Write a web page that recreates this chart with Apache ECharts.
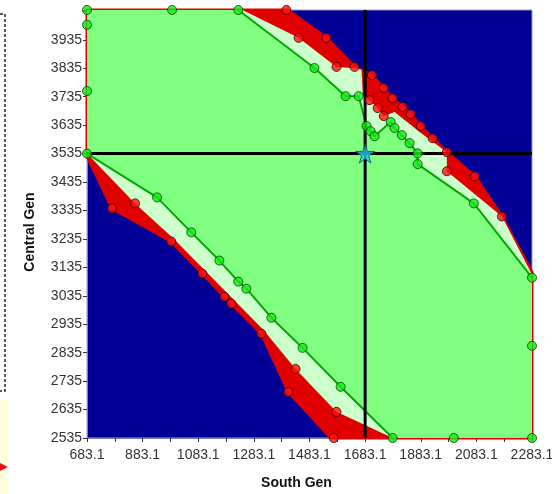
<!DOCTYPE html>
<html>
<head>
<meta charset="utf-8">
<script src="https://cdn.jsdelivr.net/npm/echarts@6.0.0/dist/echarts.min.js"></script>
</head>
<body style="margin:0; background:#fff">
<div id="container" style="width:552px; height:494px"></div>
<script type="text/javascript">
// axis range
var xMin = 683.1, xMax = 2283.1, yMin = 2535, yMax = 4040;
var yLastLabel = 3935;
var crossX = 1683.1, crossY = 3535;

// green nomogram line (top edge -> right edge, left edge -> bottom edge)
var greenUpper = [[1227, 4040], [1501, 3836], [1613, 3737], [1660, 3737], [1688, 3632], [1703, 3614],
    [1717, 3596], [1775, 3646], [1789, 3625], [1815, 3600], [1843, 3572], [1872, 3536], [1872, 3498],
    [2074, 3360], [2283.1, 3099]];
var greenLower = [[683.1, 3535], [935, 3381], [1058, 3258], [1159, 3159], [1227, 3085], [1256, 3060],
    [1346, 2958], [1458, 2852], [1595, 2715], [1782, 2535]];
var greenEdge = [[683.1, 3755], [683.1, 3988], [683.1, 4040], [989, 4040], [2283.1, 2859], [2283.1, 2535], [2002, 2535]];

// red band, outer boundary (against the blue)
var redOuterUpper = [[1405, 4040], [1544, 3942], [1645, 3840], [1707, 3811], [1750, 3766], [1782, 3730],
    [1818, 3699], [1847, 3674], [1883, 3632], [1926, 3589], [1977, 3540], [2078, 3455], [2175, 3314], [2283.1, 3117]];
var redOuterLower = [[683.1, 3526], [773, 3342], [986, 3226], [1098, 3113], [1177, 3032], [1202, 3007],
    [1310, 2902], [1407, 2697], [1560, 2535]];

// red band, inner boundary (against the pale green)
var redInnerUpper = [[1242, 4040], [1444, 3942], [1580, 3840], [1650, 3835], [1670, 3830], [1675, 3738],
    [1699, 3723], [1728, 3695], [1750, 3667], [1789, 3681], [1880, 3610], [1977, 3540], [1977, 3473],
    [2175, 3314], [2283.1, 3110]];
var redInnerLower = [[683.1, 3535], [856, 3360], [993, 3237], [1317, 2916], [1433, 2778], [1580, 2627], [1782, 2535]];

var redMarkers = [[1400, 4040], [1544, 3942], [1645, 3840], [1707, 3811], [1750, 3766], [1782, 3730],
    [1818, 3699], [1847, 3674], [1883, 3632], [1926, 3589], [1977, 3540], [2078, 3455], [2175, 3314],
    [1444, 3942], [1580, 3840], [1699, 3723], [1728, 3695], [1750, 3667], [1977, 3473],
    [773, 3342], [856, 3360], [986, 3226], [1098, 3113], [1177, 3032], [1202, 3007], [1310, 2902],
    [1407, 2697], [1570, 2535], [1433, 2778], [1580, 2627]];

var starPoint = [[crossX, crossY]];

function region(upper, lower) {
    return [[xMin, yMax]].concat(upper, [[xMax, yMin]], lower.slice().reverse());
}

function polySeries(points, fill, stroke, lw, z) {
    return {
        type: 'custom',
        coordinateSystem: 'cartesian2d',
        silent: true,
        z: z,
        data: points,
        renderItem: function (params, api) {
            if (params.dataIndex !== 0) return null;
            var pts = points.map(function (p) { return api.coord(p); });
            return {
                type: 'polygon',
                shape: {points: pts},
                style: {fill: fill, stroke: stroke, lineWidth: lw}
            };
        }
    };
}

function lineSeries(data, color, width, z) {
    return {
        type: 'line', data: data, showSymbol: false, silent: true, z: z,
        lineStyle: {color: color, width: width}
    };
}

var dom = document.getElementById("container");
var myChart = echarts.init(dom);
var font = 'Arial, "Liberation Sans", sans-serif';

var option = {
    animation: false,
    grid: {
        left: 87, right: 20, top: 10, bottom: 56,
        outerBoundsMode: 'none', containLabel: false,
        show: true, backgroundColor: '#000096', borderColor: '#9a9acc', borderWidth: 1
    },
    xAxis: {
        type: 'value', min: xMin, max: xMax, interval: 200,
        name: 'South Gen', nameLocation: 'middle', nameGap: 38,
        nameTextStyle: {fontFamily: font, fontSize: 14, fontWeight: 'bold', color: '#111', padding: [0, 26, 0, 0]},
        axisLine: {lineStyle: {color: '#8080c0'}},
        axisTick: {lineStyle: {color: '#333'}, length: 4},
        minorTick: {show: true, splitNumber: 2, length: 4, lineStyle: {color: '#333'}},
        splitLine: {show: false},
        axisLabel: {
            fontFamily: font, fontSize: 14, color: '#333', margin: 10,
            formatter: function (v) { return v.toFixed(1); }
        }
    },
    yAxis: {
        type: 'value', min: yMin, max: yMax, interval: 100,
        name: 'Central Gen', nameLocation: 'middle', nameGap: 50, nameRotate: 90,
        nameTextStyle: {fontFamily: font, fontSize: 14, fontWeight: 'bold', color: '#111', padding: [0, 16, 0, 0]},
        axisLine: {show: true, lineStyle: {color: '#8080c0'}},
        axisTick: {show: true, lineStyle: {color: '#333'}, length: 4},
        splitLine: {show: false},
        axisLabel: {
            fontFamily: font, fontSize: 14, color: '#333', margin: 5,
            formatter: function (v) { return v > yLastLabel + 1 ? '' : Math.round(v) + ''; }
        }
    },
    graphic: [
        {type: 'polyline', silent: true, shape: {points: [[0, 14], [5, 14], [5, 391], [0, 391]]},
            style: {stroke: '#222', lineWidth: 1.5, lineDash: [3, 2], fill: null}},
        {type: 'rect', silent: true, shape: {x: 0, y: 400, width: 8, height: 94}, style: {fill: '#ffffdd'}},
        {type: 'polygon', silent: true, shape: {points: [[0, 463], [8, 467], [0, 471]]}, style: {fill: '#ee1111'}}
    ],
    series: [
        polySeries(region(redOuterUpper, redOuterLower), '#e00000', '#e00000', 3, 1),
        polySeries(region(redInnerUpper, redInnerLower), '#ccffcc', null, 0, 2),
        polySeries(region(greenUpper, greenLower), '#80ff80', null, 0, 3),
        lineSeries(greenUpper, '#00a800', 2, 4),
        lineSeries(greenLower, '#00a800', 2, 4),
        lineSeries([[crossX, yMin], [crossX, yMax]], '#000', 3, 5),
        lineSeries([[xMin, crossY], [xMax, crossY]], '#000', 3, 5),
        {
            type: 'scatter', z: 6, silent: true, symbol: 'circle', symbolSize: 9,
            data: redMarkers,
            itemStyle: {color: '#ff1010', borderColor: '#3a0000', borderWidth: 1}
        },
        {
            type: 'scatter', z: 6, silent: true, symbol: 'circle', symbolSize: 9,
            data: greenUpper.concat(greenLower, greenEdge),
            itemStyle: {color: '#11ee11', borderColor: '#0a3a0a', borderWidth: 1}
        },
        {
            type: 'scatter', z: 7, silent: true, symbolSize: 19,
            symbol: 'path://M50,0 L61,35 L98,35 L68,57 L79,91 L50,70 L21,91 L32,57 L2,35 L39,35 Z',
            data: starPoint,
            itemStyle: {color: '#22ccee', borderColor: '#114455', borderWidth: 1}
        }
    ]
};

if (option && typeof option === "object") {
    myChart.setOption(option, true);
}
</script>
</body>
</html>
